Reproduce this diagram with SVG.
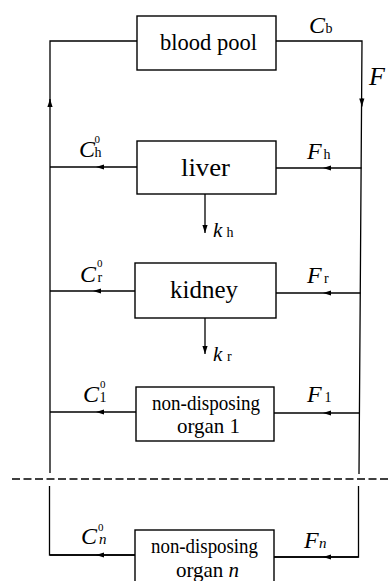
<svg xmlns="http://www.w3.org/2000/svg" width="390" height="581" viewBox="0 0 390 581">
<style>
.box{fill:#fff;stroke:#000;stroke-width:1.4}
.ln{fill:none;stroke:#000;stroke-width:1.3}
.t{font-family:"Liberation Serif","Times New Roman",serif;fill:#000}
.bt{font-size:22px;text-anchor:middle}
.v{font-style:italic;font-size:24px}
.s{font-style:normal;font-size:14px}
.sup{font-style:normal;font-size:11px}
</style>
<defs>
<marker id="ah" markerUnits="userSpaceOnUse" markerWidth="10" markerHeight="8" refX="8" refY="0" viewBox="0 -4 10 8" orient="auto" overflow="visible">
<path d="M8,0 L0,-2.6 L0,2.6 z" fill="#000"/>
</marker>
</defs>
<rect width="390" height="581" fill="#fff"/>
<g id="connectors">
<path class="ln" d="M137,41 L50,41 L50,473"/>
<path class="ln" d="M50,105 L50,99" marker-end="url(#ah)"/>
<path class="ln" d="M276,41 L362,41 L359,474"/>
<path class="ln" d="M361.8,98 L361.9,106.5" marker-end="url(#ah)"/>
<path class="ln" d="M49.5,486 L49.5,555 L135,555"/>
<path class="ln" d="M274,557 L358.5,557 L358.5,486"/>
<path class="ln" d="M137,167 L96,167 L50,167" marker-mid="url(#ah)"/>
<path class="ln" d="M361.5,168 L323,168 L276,168" marker-mid="url(#ah)"/>
<path class="ln" d="M135,291 L93,291 L50,291" marker-mid="url(#ah)"/>
<path class="ln" d="M360.5,293 L323,293 L276,293" marker-mid="url(#ah)"/>
<path class="ln" d="M136,412 L96,412 L50,412" marker-mid="url(#ah)"/>
<path class="ln" d="M359.5,413 L323,413 L274,413" marker-mid="url(#ah)"/>
<path class="ln" d="M135,555 L96,555 L50,555" marker-mid="url(#ah)"/>
<path class="ln" d="M358.5,557 L323,557 L274,557" marker-mid="url(#ah)"/>
<path class="ln" d="M205,194 L205,233" marker-end="url(#ah)"/>
<path class="ln" d="M205,318 L205,354" marker-end="url(#ah)"/>
<path class="ln" d="M12,479 L390,479" stroke-dasharray="8 3.5"/>
</g>
<g id="blood-pool">
<rect class="box" x="137" y="16" width="139" height="54"/>
<text class="t bt" x="208.5" y="50" style="font-size:23px" textLength="97" lengthAdjust="spacingAndGlyphs">blood pool</text>
</g>
<g id="liver">
<rect class="box" x="137" y="141" width="139" height="53"/>
<text class="t bt" x="205.5" y="176" style="font-size:25px" textLength="49" lengthAdjust="spacingAndGlyphs">liver</text>
</g>
<g id="kidney">
<rect class="box" x="135" y="263" width="141" height="55"/>
<text class="t bt" x="204" y="298" style="font-size:25px" textLength="68" lengthAdjust="spacingAndGlyphs">kidney</text>
</g>
<g id="organ-1">
<rect class="box" x="136" y="387" width="138" height="54"/>
<text class="t bt" x="206" y="410" style="font-size:21px" textLength="108" lengthAdjust="spacingAndGlyphs">non-disposing</text>
<text class="t bt" x="208.5" y="433" style="font-size:21px" textLength="63" lengthAdjust="spacingAndGlyphs">organ 1</text>
</g>
<g id="organ-n">
<rect class="box" x="135" y="530" width="139" height="60"/>
<text class="t bt" x="204.5" y="553" style="font-size:21px" textLength="107" lengthAdjust="spacingAndGlyphs">non-disposing</text>
<text class="t bt" x="207.5" y="577" style="font-size:21px">organ <tspan font-style="italic">n</tspan></text>
</g>
<g id="labels">
<text class="t v" x="309" y="33">C</text><text class="t s" x="325.5" y="33">b</text>
<text class="t v" x="369" y="85" style="font-size:26px">F</text>
<text class="t v" x="79" y="157">C</text><text class="t sup" x="94.5" y="143">0</text><text class="t s" x="94.5" y="157">h</text>
<text class="t v" x="307" y="159">F</text><text class="t s" x="323.5" y="159">h</text>
<text class="t v" x="213" y="236.5" style="font-size:21px">k</text><text class="t s" x="226.5" y="236.5">h</text>
<text class="t v" x="80" y="281.5">C</text><text class="t sup" x="97" y="266.5">0</text><text class="t s" x="97.5" y="281.5">r</text>
<text class="t v" x="307" y="283">F</text><text class="t s" x="324" y="283">r</text>
<text class="t v" x="213" y="360.5" style="font-size:21px">k</text><text class="t s" x="227" y="361">r</text>
<text class="t v" x="83" y="401.5">C</text><text class="t sup" x="100" y="388">0</text><text class="t s" x="99.5" y="402">1</text>
<text class="t v" x="307" y="402">F</text><text class="t s" x="324.5" y="402">1</text>
<text class="t v" x="81" y="544">C</text><text class="t sup" x="98" y="530.5">0</text><text class="t v" x="99" y="544" style="font-size:15px">n</text>
<text class="t v" x="304" y="548">F</text><text class="t v" x="319" y="548" style="font-size:15px">n</text>
</g>
</svg>
